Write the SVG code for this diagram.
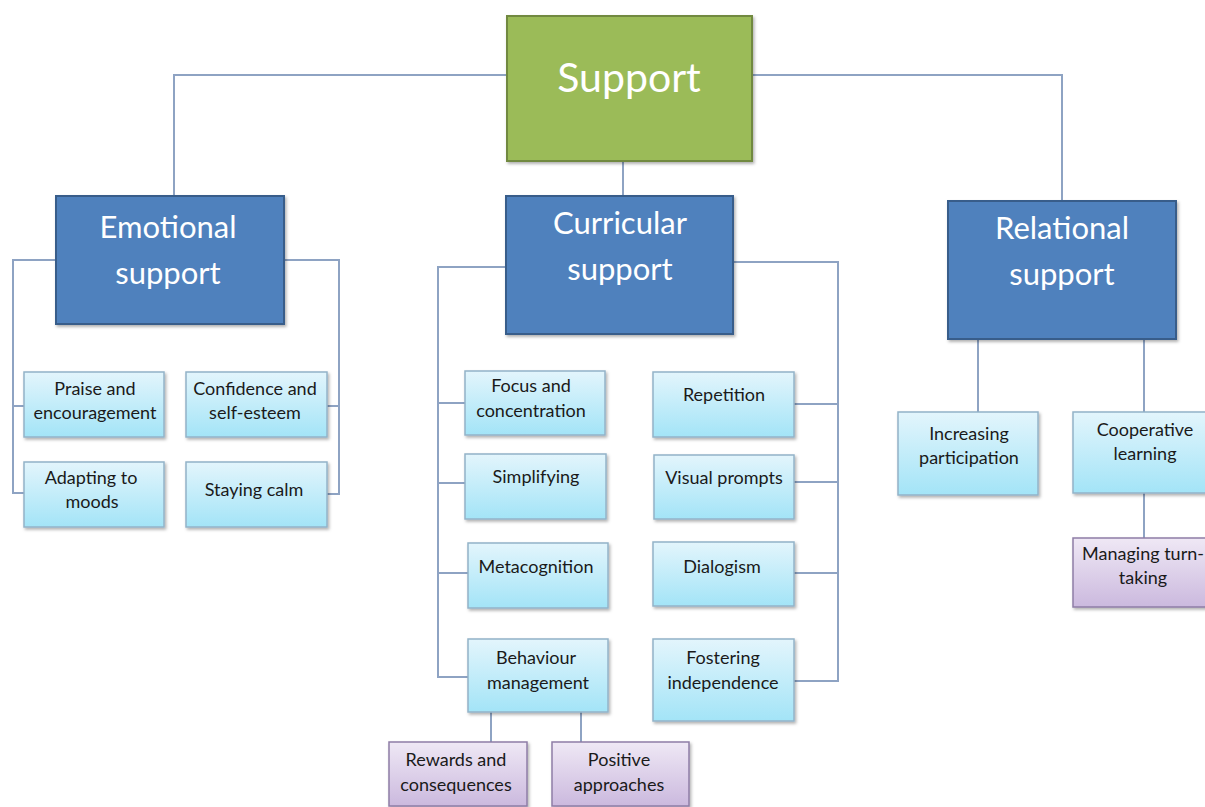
<svg xmlns="http://www.w3.org/2000/svg" width="1205" height="807" viewBox="0 0 1205 807">
<defs>
<linearGradient id="gBlue" x1="0" y1="0" x2="0" y2="1"><stop offset="0" stop-color="#e3f5fc"/><stop offset="1" stop-color="#a3e4f7"/></linearGradient>
<linearGradient id="gPurp" x1="0" y1="0" x2="0" y2="1"><stop offset="0" stop-color="#efe8f5"/><stop offset="1" stop-color="#cbb9de"/></linearGradient>
<filter id="sh" x="-10%" y="-10%" width="130%" height="130%"><feDropShadow dx="1.5" dy="2" stdDeviation="1.5" flood-color="#000" flood-opacity="0.3"/></filter>
</defs>
<style>
.conn{fill:none;stroke:#8ea3c3;stroke-width:2}
.top{fill:#9bbb59;stroke:#71893f;stroke-width:2}
.mid{fill:#4f81bd;stroke:#385d8a;stroke-width:2}
.leaf{fill:url(#gBlue);stroke:#93b3c8;stroke-width:1.5}
.sub{fill:url(#gPurp);stroke:#8e7da6;stroke-width:1.5}
.big{font-family:Lato,"Liberation Sans",sans-serif;fill:#ffffff;text-anchor:middle}
.t{font-family:Lato,"Liberation Sans",sans-serif;font-size:18px;fill:#1a1a1a;text-anchor:middle}
</style>
<rect width="1205" height="807" fill="#ffffff"/>
<g id="connectors" class="conn">
<polyline points="507,75 174,75 174,196"/>
<polyline points="752,75 1062,75 1062,201"/>
<line x1="623" y1="161" x2="623" y2="196"/>
<polyline points="56,260 13,260 13,493 24,493"/>
<line x1="13" y1="406" x2="24" y2="406"/>
<polyline points="284,260 339,260 339,494 327,494"/>
<line x1="339" y1="406" x2="327" y2="406"/>
<polyline points="506,267 438,267 438,677 468,677"/>
<line x1="438" y1="403" x2="465" y2="403"/>
<line x1="438" y1="483" x2="465" y2="483"/>
<line x1="438" y1="573" x2="468" y2="573"/>
<polyline points="733,262 838,262 838,681 794,681"/>
<line x1="838" y1="404" x2="794" y2="404"/>
<line x1="838" y1="482" x2="794" y2="482"/>
<line x1="838" y1="573" x2="794" y2="573"/>
<line x1="491" y1="712" x2="491" y2="742"/>
<line x1="581" y1="712" x2="581" y2="742"/>
<line x1="978" y1="339" x2="978" y2="412"/>
<line x1="1144" y1="339" x2="1144" y2="412"/>
<line x1="1144" y1="493" x2="1144" y2="538"/>
</g>
<g id="n-support"><rect class="top" x="507" y="16" width="245" height="145" filter="url(#sh)"/><text class="big" x="629" y="92" font-size="41">Support</text></g>
<g id="n-emotional"><rect class="mid" x="56" y="196" width="228" height="128" filter="url(#sh)"/><text class="big" font-size="31" x="168" y="238">Emotional</text><text class="big" font-size="31" x="168" y="284">support</text></g>
<g id="n-curricular"><rect class="mid" x="506" y="196" width="227" height="138" filter="url(#sh)"/><text class="big" font-size="31" x="620" y="234">Curricular</text><text class="big" font-size="31" x="620" y="280">support</text></g>
<g id="n-relational"><rect class="mid" x="948" y="201" width="228" height="138" filter="url(#sh)"/><text class="big" font-size="31" x="1062" y="239">Relational</text><text class="big" font-size="31" x="1062" y="285">support</text></g>

<g id="n-praise"><rect class="leaf" x="24" y="372" width="140" height="65" filter="url(#sh)"/><text class="t" x="95" y="395">Praise and</text><text class="t" x="95" y="419">encouragement</text></g>
<g id="n-confidence"><rect class="leaf" x="186" y="372" width="141" height="65" filter="url(#sh)"/><text class="t" x="255" y="395">Confidence and</text><text class="t" x="255" y="419">self-esteem</text></g>
<g id="n-adapting"><rect class="leaf" x="24" y="462" width="140" height="65" filter="url(#sh)"/><text class="t" x="91" y="484">Adapting to</text><text class="t" x="92" y="508">moods</text></g>
<g id="n-calm"><rect class="leaf" x="186" y="462" width="141" height="65" filter="url(#sh)"/><text class="t" x="254" y="496">Staying calm</text></g>

<g id="n-focus"><rect class="leaf" x="465" y="371" width="140" height="64" filter="url(#sh)"/><text class="t" x="531" y="392">Focus and</text><text class="t" x="531" y="417">concentration</text></g>
<g id="n-simplifying"><rect class="leaf" x="465" y="454" width="141" height="65" filter="url(#sh)"/><text class="t" x="536" y="483">Simplifying</text></g>
<g id="n-metacognition"><rect class="leaf" x="468" y="543" width="140" height="65" filter="url(#sh)"/><text class="t" x="536" y="573">Metacognition</text></g>
<g id="n-behaviour"><rect class="leaf" x="468" y="639" width="140" height="73" filter="url(#sh)"/><text class="t" x="536" y="664">Behaviour</text><text class="t" x="538" y="689">management</text></g>

<g id="n-repetition"><rect class="leaf" x="653" y="372" width="141" height="65" filter="url(#sh)"/><text class="t" x="724" y="401">Repetition</text></g>
<g id="n-visual"><rect class="leaf" x="654" y="455" width="140" height="64" filter="url(#sh)"/><text class="t" x="724" y="484">Visual prompts</text></g>
<g id="n-dialogism"><rect class="leaf" x="653" y="542" width="141" height="64" filter="url(#sh)"/><text class="t" x="722" y="573">Dialogism</text></g>
<g id="n-fostering"><rect class="leaf" x="653" y="639" width="141" height="82" filter="url(#sh)"/><text class="t" x="723" y="664">Fostering</text><text class="t" x="723" y="689">independence</text></g>

<g id="n-rewards"><rect class="sub" x="389" y="742" width="138" height="64" filter="url(#sh)"/><text class="t" x="456" y="766">Rewards and</text><text class="t" x="456" y="791">consequences</text></g>
<g id="n-positive"><rect class="sub" x="552" y="742" width="137" height="64" filter="url(#sh)"/><text class="t" x="619" y="766">Positive</text><text class="t" x="619" y="791">approaches</text></g>

<g id="n-increasing"><rect class="leaf" x="898" y="412" width="140" height="83" filter="url(#sh)"/><text class="t" x="969" y="440">Increasing</text><text class="t" x="969" y="464">participation</text></g>
<g id="n-cooperative"><rect class="leaf" x="1073" y="412" width="140" height="81" filter="url(#sh)"/><text class="t" x="1145" y="436">Cooperative</text><text class="t" x="1145" y="460">learning</text></g>
<g id="n-managing"><rect class="sub" x="1073" y="538" width="140" height="69" filter="url(#sh)"/><text class="t" x="1143" y="560">Managing turn-</text><text class="t" x="1143" y="584">taking</text></g>
</svg>
